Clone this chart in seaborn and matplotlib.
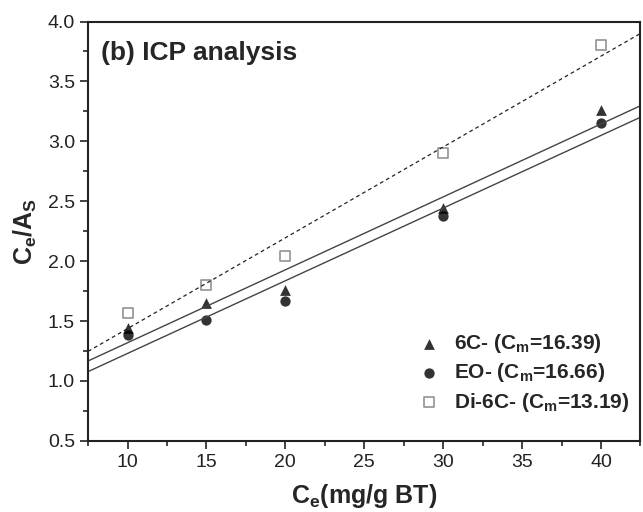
import pandas as pd
import seaborn as sns
import matplotlib.pyplot as plt
import matplotlib.ticker as ticker

# Datos (b) ICP analysis
ce = [10, 15, 20, 30, 40]
y_6c = [1.44, 1.65, 1.76, 2.44, 3.26]
y_eo = [1.38, 1.51, 1.67, 2.38, 3.15]
y_di6c = [1.57, 1.80, 2.04, 2.90, 3.80]
etiquetas = ['6C- (C$_\\mathregular{m}$=16.39)',
             'EO- (C$_\\mathregular{m}$=16.66)',
             'Di-6C- (C$_\\mathregular{m}$=13.19)']

data = pd.DataFrame({'Ce': ce, '6C': y_6c, 'EO': y_eo, 'Di6C': y_di6c})

sns.set_style('ticks')
plt.rcParams['font.family'] = ['Liberation Sans', 'DejaVu Sans']

fig = plt.figure(figsize=(6.43, 5.12), dpi=100)
ax = fig.add_axes([0.137, 0.139, 0.859, 0.819])
ax.set_xlim(7.5, 42.5)
ax.set_ylim(0.5, 4.0)

sns.regplot(data=data, x='Ce', y='6C', ax=ax, ci=None, truncate=False, marker='^',
            label=etiquetas[0],
            scatter_kws={'s': 60, 'color': 'black', 'linewidths': 0},
            line_kws={'color': '#444444', 'lw': 1.0})
sns.regplot(data=data, x='Ce', y='EO', ax=ax, ci=None, truncate=False, marker='o',
            label=etiquetas[1],
            scatter_kws={'s': 55, 'color': 'black', 'linewidths': 0},
            line_kws={'color': '#444444', 'lw': 1.0})
sns.regplot(data=data, x='Ce', y='Di6C', ax=ax, ci=None, truncate=False, marker='s',
            label=etiquetas[2],
            scatter_kws={'s': 50, 'facecolors': 'white', 'edgecolors': '#777777', 'linewidths': 1.2},
            line_kws={'color': '#222222', 'lw': 0.9, 'linestyle': (0, (3, 2.5))})

ax.set_xlim(7.5, 42.5)
ax.set_ylim(0.5, 4.0)
ax.xaxis.set_major_locator(ticker.MultipleLocator(5))
ax.xaxis.set_minor_locator(ticker.MultipleLocator(2.5))
ax.yaxis.set_major_locator(ticker.MultipleLocator(0.5))
ax.yaxis.set_minor_locator(ticker.MultipleLocator(0.25))
ax.yaxis.set_major_formatter(ticker.FormatStrFormatter('%.1f'))
ax.tick_params(which='major', direction='out', length=6, width=1.2, labelsize=14, colors='#222222')
ax.tick_params(which='minor', direction='out', length=3.5, width=1.2)
for s in ax.spines.values():
    s.set_linewidth(1.5)
    s.set_color('#222222')

ax.set_xlabel('C$_\\mathregular{e}$(mg/g BT)', fontsize=18, fontweight='bold', labelpad=8)
ax.set_ylabel('C$_\\mathregular{e}$/A$_\\mathregular{S}$', fontsize=18, fontweight='bold', labelpad=6)

ax.text(0.023, 0.925, '(b) ICP analysis', transform=ax.transAxes, fontsize=19,
        fontweight='bold', va='center', ha='left')

ax.legend(loc='lower right', frameon=False, prop={'size': 15, 'weight': 'bold'},
          handletextpad=0.4, handlelength=1.6, labelspacing=0.3, borderaxespad=0.1,
          bbox_to_anchor=(1.0, 0.04))

plt.savefig('out.png', dpi=100)
